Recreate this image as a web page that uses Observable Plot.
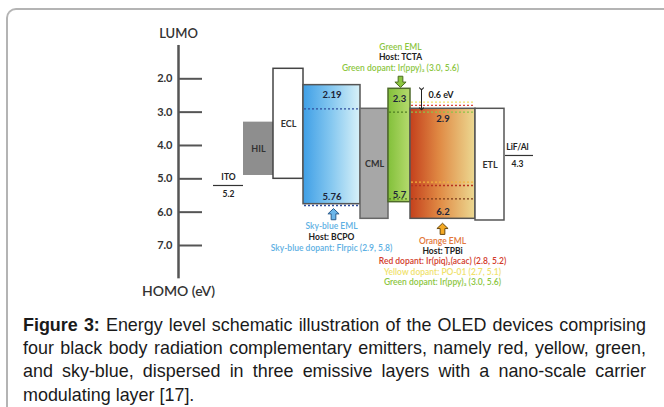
<!DOCTYPE html>
<html>
<head>
<meta charset="utf-8">
<script src="https://cdn.jsdelivr.net/npm/d3@7"></script>
<script src="https://cdn.jsdelivr.net/npm/@observablehq/plot@0.6"></script>
<style>
  html, body { margin: 0; padding: 0; background: #fff; width: 664px; height: 407px; overflow: hidden; }
  #frame { position: absolute; left: 6px; top: 8px; width: 720px; height: 460px;
           border-top: 2px solid #b4b4b4; border-left: 2px solid #b4b4b4; border-top-left-radius: 10px; }
  #chart { position: absolute; left: 0; top: 0; }
  #caption { position: absolute; left: 23px; top: 314px; width: 623px;
             font-family: "Liberation Sans", Arial, sans-serif; font-size: 17px; line-height: 23.2px; color: #1a1a1a; }
  #caption div { white-space: nowrap; text-align: justify; text-align-last: justify; }
  #caption div.last { text-align-last: left; }
</style>
</head>
<body>
<div id="frame"></div>
<div id="chart"></div>
<div id="caption"></div>
<script>
// ---------- data ----------
const layers = ["HIL", "ECL", "Sky-blue EML", "CML", "Green EML", "Orange EML", "ETL"];
const lumo   = [3.3, 1.7, 2.19, 2.9, 2.3, 2.9, 2.9];
const homo   = [4.9, 5.0, 5.76, 6.2, 5.7, 6.2, 6.25];
const layerNames = ["HIL", "ECL", "", "CML", "", "", "ETL"];
const lumoLabels = ["", "", "2.19", "", "2.3", "2.9", ""];
const homoLabels = ["", "", "5.76", "", "5.7", "6.2", ""];

const electrodes = ["ITO", "LiF/Al"];
const electrodeLevels = [5.2, 4.3];
const electrodeLabels = ["5.2", "4.3"];

const dopantHost = ["Sky-blue EML", "Green EML", "Orange EML", "Orange EML", "Orange EML"];
const dopantName = ["FIrpic", "Ir(ppy)3", "Ir(piq)2(acac)", "PO-01", "Ir(ppy)3"];
const dopantLumo = [2.9, 3.0, 2.8, 2.7, 3.0];
const dopantHomo = [5.8, 5.6, 5.2, 5.1, 5.6];

const yTicks = [2.0, 3.0, 4.0, 5.0, 6.0, 7.0];
const gapLabel = "0.6 eV";

const greenLines  = ["Green EML", "Host: TCTA", "Green dopant: Ir(ppy)\u2083 (3.0, 5.6)"];
const skyLines    = ["Sky-blue EML", "Host: BCPO", "Sky-blue dopant: FIrpic (2.9, 5.8)"];
const orangeLines = ["Orange EML", "Host: TPBi", "Red dopant: Ir(piq)\u2082(acac) (2.8, 5.2)",
                     "Yellow dopant: PO-01 (2.7, 5.1)", "Green dopant: Ir(ppy)\u2083 (3.0, 5.6)"];

const captionBold = "Figure 3:";
const captionLines = [
  " Energy level schematic illustration of the OLED devices comprising",
  "four black body radiation complementary emitters, namely red, yellow, green,",
  "and sky-blue, dispersed in three emissive layers with a nano-scale carrier",
  "modulating layer [17]."
];

// ---------- layout (schematic column positions, not data) ----------
const layerSpan = {
  "HIL": [243, 273], "ECL": [273, 303], "Sky-blue EML": [303, 360], "CML": [360, 388],
  "Green EML": [388, 410], "Orange EML": [410, 475], "ETL": [475, 504]
};
const electrodeSpan = {"ITO": [213, 243], "LiF/Al": [505, 533]};
const axisX = 178;
const layerFill = {
  "HIL": "#8e8e8e", "ECL": "#ffffff", "Sky-blue EML": "url(#gSky)", "CML": "#a7a7a7",
  "Green EML": "url(#gGreen)", "Orange EML": "url(#gOrange)", "ETL": "#ffffff"
};
const layerStroke = {
  "HIL": "none", "ECL": "#444", "Sky-blue EML": "#555", "CML": "#666",
  "Green EML": "#4e6a2a", "Orange EML": "#555", "ETL": "#555"
};
const dopantColor = ["#2f4d9c", "#4f7d22", "#d9463c", "#f1e36a", "#8bc34a"];
const dopantColorLow = ["#2f4d9c", "#4f7d22", "#b8321e", "#f2b23c", "#7a3a1a"];

// ---------- build ----------
const L = layers.map((name, i) => ({
  name, lumo: lumo[i], homo: homo[i], label: layerNames[i],
  lumoLabel: lumoLabels[i], homoLabel: homoLabels[i],
  x1: layerSpan[name][0], x2: layerSpan[name][1],
  fill: layerFill[name], stroke: layerStroke[name]
}));
const E = electrodes.map((name, i) => ({
  name, level: electrodeLevels[i], label: electrodeLabels[i],
  x1: electrodeSpan[name][0], x2: electrodeSpan[name][1]
}));
const D = dopantHost.map((host, i) => ({
  host, name: dopantName[i], lumo: dopantLumo[i], homo: dopantHomo[i],
  x1: layerSpan[host][0] + 1, x2: layerSpan[host][1] - 1,
  c: dopantColor[i], c2: dopantColorLow[i]
}));
const layerOf = n => L.find(d => d.name === n);

const fatArrow = {
  draw(ctx, size) {
    const s = Math.sqrt(size);
    const h = s / 2;
    ctx.moveTo(0, -h);
    ctx.lineTo(h, -h * 0.05);
    ctx.lineTo(h * 0.42, -h * 0.05);
    ctx.lineTo(h * 0.42, h);
    ctx.lineTo(-h * 0.42, h);
    ctx.lineTo(-h * 0.42, -h * 0.05);
    ctx.lineTo(-h, -h * 0.05);
    ctx.closePath();
  }
};

const font = "Lato, 'Open Sans', sans-serif";
const marks = [];

// axis
marks.push(Plot.ruleX([axisX], {y1: 1.0, y2: 8.0, stroke: "#555", strokeWidth: 2.5}));
marks.push(Plot.ruleY(yTicks, {x1: axisX, x2: axisX + 24, stroke: "#555", strokeWidth: 2}));
marks.push(Plot.text(yTicks, {x: axisX - 6, y: d => d, text: d => d.toFixed(1), textAnchor: "end",
  fontSize: 11, fontWeight: "bold", fill: "#333", fontFamily: font}));
marks.push(Plot.text(["LUMO"], {x: axisX, y: 1.0, dy: -12, text: d => d, fontSize: 13, fontWeight: 600, fill: "#333", fontFamily: font}));
marks.push(Plot.text(["HOMO (eV)"], {x: axisX, y: 8.0, dy: 13, text: d => d, fontSize: 14, fontWeight: 600, fill: "#333", fontFamily: font}));

// layers
marks.push(Plot.rect(L, {x1: "x1", x2: "x2", y1: "lumo", y2: "homo", fill: "fill", stroke: "stroke", strokeWidth: 1.5}));

// dopant levels
marks.push(Plot.ruleY(D, {x1: "x1", x2: "x2", y: "lumo", stroke: "c", strokeDasharray: "2,2", strokeWidth: 1.3}));
marks.push(Plot.ruleY(D, {x1: "x1", x2: "x2", y: "homo", stroke: "c2", strokeDasharray: "2,2", strokeWidth: 1.3}));

// layer labels
marks.push(Plot.text(L.filter(d => d.label), {x: d => (d.x1 + d.x2) / 2, y: d => (d.lumo + d.homo) / 2, text: "label",
  fontSize: 9, fontWeight: "bold", fill: "#333", fontFamily: font}));
marks.push(Plot.text(L.filter(d => d.lumoLabel), {x: d => (d.x1 + d.x2) / 2, y: "lumo", dy: 10, text: "lumoLabel",
  fontSize: 9.5, fontWeight: "bold", fill: "#1c2438", fontFamily: font}));
marks.push(Plot.text(L.filter(d => d.homoLabel), {x: d => (d.x1 + d.x2) / 2, y: "homo", dy: -7, text: "homoLabel",
  fontSize: 9.5, fontWeight: "bold", fill: "#1c2438", fontFamily: font}));

// electrodes
marks.push(Plot.ruleY(E, {x1: "x1", x2: "x2", y: "level", stroke: "#333", strokeWidth: 1.2}));
marks.push(Plot.text(E, {x: d => (d.x1 + d.x2) / 2 + (d.name === "ITO" ? 0 : -2), y: "level", dy: -8, text: "name",
  fontSize: 8.5, fontWeight: "bold", fill: "#222", fontFamily: font}));
marks.push(Plot.text(E, {x: d => (d.x1 + d.x2) / 2 + (d.name === "ITO" ? 0 : -2), y: "level", dy: 9, text: "label",
  fontSize: 8.5, fontWeight: "bold", fill: "#222", fontFamily: font}));

// 0.6 eV gap arrow
const G = layerOf("Green EML"), O = layerOf("Orange EML"), S = layerOf("Sky-blue EML");
marks.push(Plot.link([{}], {x1: 421, x2: 421, y1: G.lumo, y2: O.lumo, stroke: "#222", strokeWidth: 1,
  markerStart: "arrow", markerEnd: "arrow"}));
marks.push(Plot.text([gapLabel], {x: 428, y: G.lumo, dy: 6, text: d => d, textAnchor: "start",
  fontSize: 9, fontWeight: "bold", fill: "#222", fontFamily: font}));

// block arrows
marks.push(Plot.dot([G], {x: 400, y: "lumo", dy: -7, r: 6.3, symbol: fatArrow, rotate: 180,
  fill: "#8cc63f", stroke: "#4a6a20", strokeWidth: 1}));
marks.push(Plot.dot([S], {x: 333, y: "homo", dy: 10, r: 6.3, symbol: fatArrow,
  fill: "#6cb6ea", stroke: "#2c5c8c", strokeWidth: 1}));
marks.push(Plot.dot([O], {x: 442, y: "homo", dy: 10, r: 6.3, symbol: fatArrow,
  fill: "#f4a923", stroke: "#6a4a10", strokeWidth: 1}));

// annotation texts
const greenCols = ["#8cc63f", "#222", "#8cc63f"];
const greenDy = [-41.6, -31.6, -21];
greenLines.forEach((t, i) => marks.push(Plot.text([t], {x: 400, y: G.lumo, dy: greenDy[i], text: d => d,
  fontSize: 8.5, fontWeight: i === 1 ? "bold" : 600, fill: greenCols[i], fontFamily: font})));
const skyCols = ["#5eb0e3", "#222", "#5eb0e3"];
const skyDy = [22.5, 33.5, 44];
skyLines.forEach((t, i) => marks.push(Plot.text([t], {x: 331, y: S.homo, dy: skyDy[i], text: d => d,
  fontSize: 8.5, fontWeight: i === 1 ? "bold" : 600, fill: skyCols[i], fontFamily: font})));
const orangeCols = ["#e2773a", "#222", "#d23a2a", "#f0e26c", "#8cc63f"];
const orangeDy = [22.5, 32, 42.7, 53.4, 63.8];
orangeLines.forEach((t, i) => marks.push(Plot.text([t], {x: 442, y: O.homo, dy: orangeDy[i], text: d => d,
  fontSize: 8.5, fontWeight: i === 1 ? "bold" : 600, fill: orangeCols[i], fontFamily: font})));

const chart = Plot.plot({
  width: 664, height: 300,
  marginTop: 0, marginBottom: 0, marginLeft: 0, marginRight: 0,
  x: {domain: [0, 664], range: [0, 664], axis: null},
  y: {domain: [2, 7], range: [78.3, 245], axis: null},
  color: {type: "identity"},
  style: {background: "transparent", fontFamily: font, overflow: "visible"},
  marks
});

// gradients
const defs = d3.select(chart).insert("defs", ":first-child");
function grad(id, stops) {
  const g = defs.append("linearGradient").attr("id", id).attr("x1", "0").attr("x2", "1").attr("y1", "0").attr("y2", "0");
  stops.forEach(([o, c]) => g.append("stop").attr("offset", o).attr("stop-color", c));
}
grad("gSky", [[0, "#3f9fe6"], [0.5, "#86c8f0"], [1, "#d8f1f8"]]);
grad("gGreen", [[0, "#82c03a"], [1, "#b6da6e"]]);
grad("gOrange", [[0, "#c4401c"], [0.45, "#e08a44"], [1, "#ecd992"]]);

document.getElementById("chart").appendChild(chart);

// caption: size font so the first line's natural width nearly fills the box
const cap = document.getElementById("caption");
const cv = document.createElement("canvas").getContext("2d");
const fam = '"Liberation Sans", Arial, sans-serif';
cv.font = "bold 16px " + fam;
let w = cv.measureText(captionBold).width;
cv.font = "16px " + fam;
w += cv.measureText(captionLines[0]).width;
let fs = 16 * 612 / w;
fs = Math.max(15, Math.min(18, fs));
cap.style.fontSize = fs.toFixed(2) + "px";
captionLines.forEach((t, i) => {
  const div = document.createElement("div");
  if (i === captionLines.length - 1) div.className = "last";
  if (i === 0) {
    const b = document.createElement("b");
    b.textContent = captionBold;
    div.appendChild(b);
  }
  div.appendChild(document.createTextNode(t));
  cap.appendChild(div);
});
</script>
</body>
</html>
